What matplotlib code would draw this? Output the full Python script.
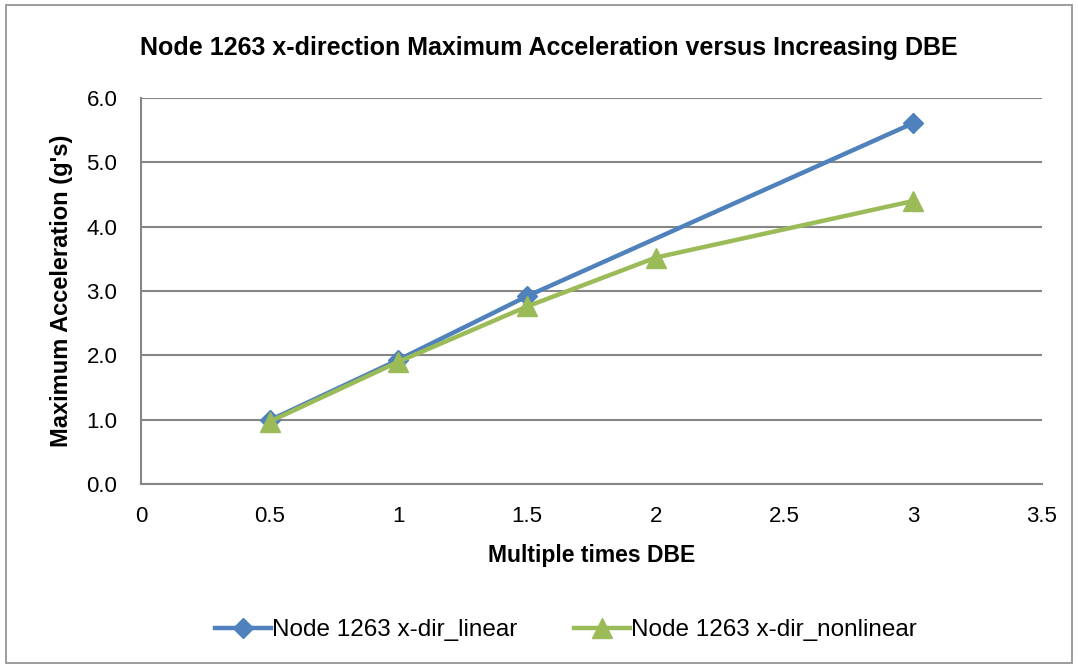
import matplotlib.pyplot as plt
from matplotlib.patches import Rectangle

# data
x_linear = [0.5, 1.0, 1.5, 3.0]
y_linear = [0.99, 1.93, 2.92, 5.61]
x_nonlinear = [0.5, 1.0, 1.5, 2.0, 3.0]
y_nonlinear = [0.97, 1.90, 2.76, 3.52, 4.40]

label_linear = "Node 1263 x-dir_linear"
label_nonlinear = "Node 1263 x-dir_nonlinear"
x_ticks = [0, 0.5, 1, 1.5, 2, 2.5, 3, 3.5]
x_tick_labels = ["0", "0.5", "1", "1.5", "2", "2.5", "3", "3.5"]
y_ticks = [0.0, 1.0, 2.0, 3.0, 4.0, 5.0, 6.0]

plt.rcParams["font.family"] = ["Liberation Sans", "DejaVu Sans"]
grid_color = "#868686"

fig = plt.figure(figsize=(10.78, 6.67), dpi=100)
ax = fig.add_axes([0.1308, 0.2744, 0.8358, 0.5786])

# outer chart border like Excel
fig.patches.append(Rectangle((0.006, 0.006), 0.988, 0.986, transform=fig.transFigure,
                             fill=False, edgecolor="#8c8c8c", linewidth=1.2))

ax.plot(x_linear, y_linear, color="#4F81BD", linewidth=3.2, marker="D",
        markersize=10, label=label_linear, zorder=3)
ax.plot(x_nonlinear, y_nonlinear, color="#9BBB59", linewidth=3.2, marker="^",
        markersize=14, label=label_nonlinear, zorder=4)

ax.set_xlim(0, 3.5)
ax.set_ylim(0, 6)
ax.set_xticks(x_ticks)
ax.set_xticklabels(x_tick_labels)
ax.set_yticks(y_ticks)
ax.set_yticklabels([f"{v:.1f}" for v in y_ticks])
ax.tick_params(length=0, labelsize=16)
ax.tick_params(axis="x", pad=16)
ax.tick_params(axis="y", pad=17)

ax.grid(axis="y", color=grid_color, linewidth=1.5)
ax.set_axisbelow(True)
for side in ["top", "right"]:
    ax.spines[side].set_visible(False)
for side in ["left", "bottom"]:
    ax.spines[side].set_color(grid_color)
    ax.spines[side].set_linewidth(1.5)

ax.set_xlabel("Multiple times DBE", fontsize=16.5, fontweight="bold", labelpad=12)
ax.set_ylabel("Maximum Acceleration (g's)", fontsize=17, fontweight="bold", labelpad=10)
fig.text(0.509, 0.928, "Node 1263 x-direction Maximum Acceleration versus Increasing DBE",
         ha="center", va="center", fontsize=18, fontweight="bold")

fig.legend(loc="center", bbox_to_anchor=(0.525, 0.055), ncol=2, frameon=False,
           fontsize=17.5, columnspacing=2.3, handlelength=2.3, handletextpad=0.05)

fig.savefig("out.png", dpi=100)
